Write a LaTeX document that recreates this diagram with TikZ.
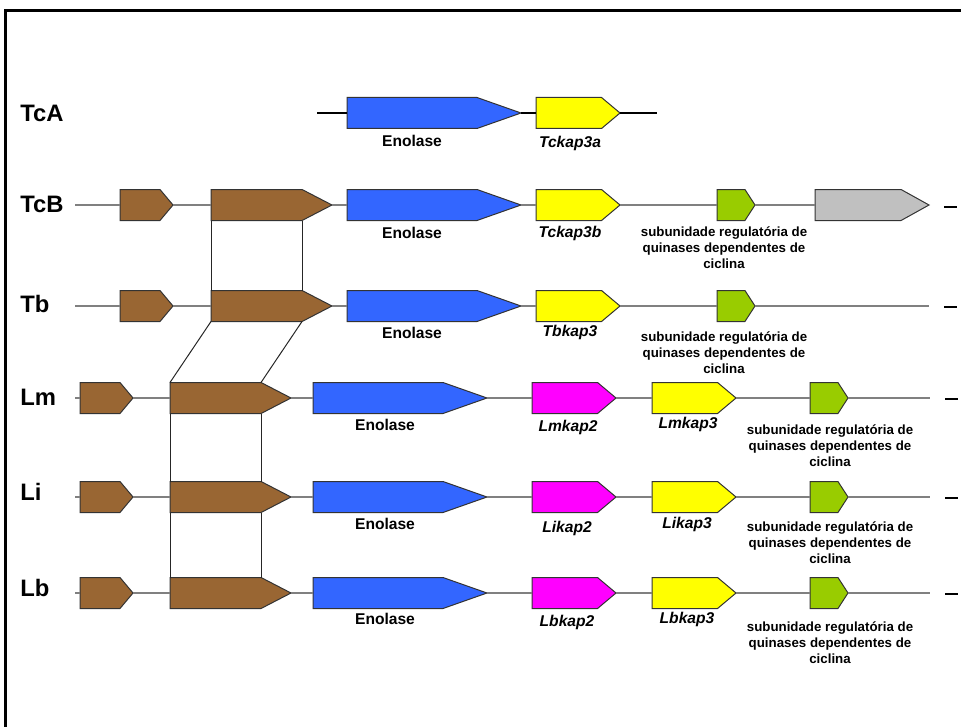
\documentclass[tikz,border=0pt]{standalone}
\usepackage{fontspec}
\setmainfont{Liberation Sans}
\usetikzlibrary{shapes.symbols,calc}

\definecolor{genebrown}{HTML}{996633}
\definecolor{geneblue}{HTML}{3366FF}
\definecolor{geneyellow}{HTML}{FFFF00}
\definecolor{genepink}{HTML}{FF00FF}
\definecolor{genegreen}{HTML}{99CC00}
\definecolor{genegray}{HTML}{C0C0C0}

\begin{document}
\begin{tikzpicture}[x=0.5pt,y=-0.5pt,
    gene/.style={signal, signal to=east, draw=black!80, line width=0.5pt,
      inner sep=0pt, outer sep=0pt, minimum height=15.5pt, anchor=west},
    smallgene/.style={gene, fill=genebrown, minimum width=26.5pt, signal pointer angle=100},
    biggene/.style={gene, fill=genebrown, minimum width=60.5pt, signal pointer angle=54.7},
    enogene/.style={gene, fill=geneblue, minimum width=87pt, signal pointer angle=38.8},
    kapgene/.style={gene, minimum width=42pt, signal pointer angle=80},
    cdkgene/.style={gene, fill=genegreen, minimum width=19pt, signal pointer angle=114},
    graygene/.style={gene, fill=genegray, minimum width=57pt, signal pointer angle=58},
    backbone/.style={draw=black!50, line width=0.6pt},
    homology/.style={draw=black!85, line width=0.5pt},
    endtick/.style={draw=black, line width=0.6pt},
    rowname/.style={font=\fontsize{11.9}{14}\selectfont\bfseries, anchor=west, inner sep=0pt},
    genelabel/.style={font=\fontsize{7.8}{9}\selectfont\bfseries, inner sep=0pt,
      text height=5.6pt, text depth=0pt},
    kaplabel/.style={genelabel, font=\fontsize{7.8}{9}\selectfont\bfseries\itshape},
    sublabel/.style={font=\fontsize{6.65}{8}\selectfont\bfseries, align=center,
      inner sep=0pt, anchor=north}]

    % Frame
    \useasboundingbox (0,0) rectangle (961,727);
    \draw[line width=1.5pt] (961,11) -- (5,11) -- (5,727);

    % Row names
    \node[rowname] (nTcA) at (20,113) {TcA};
    \node[rowname] (nTcB) at (20,204) {TcB};
    \node[rowname] (nTb) at (20,304) {Tb};
    \node[rowname] (nLm) at (20,397) {Lm};
    \node[rowname] (nLi) at (20,492) {Li};
    \node[rowname] (nLb) at (20,588) {Lb};

    % TcA
    \coordinate (sTcA) at (317,113);
    \coordinate (eTcA) at (657,113);
    \node[enogene] (enTcA) at (347,113) {};
    \node[kapgene, fill=geneyellow] (kTcA) at (536,113) {};
    \draw[black, line width=0.6pt] (sTcA) -- (enTcA) -- (kTcA) -- (eTcA);
    \node[genelabel] (tenTcA) at (412,141) {Enolase};
    \node[kaplabel] (tkTcA) at (570,142) {Tckap3a};

    % TcB
    \coordinate (sTcB) at (75,205);
    \node[smallgene] (smTcB) at (120,205) {};
    \node[biggene] (bgTcB) at (211,205) {};
    \node[enogene] (enTcB) at (347,205) {};
    \node[kapgene, fill=geneyellow] (kTcB) at (536,205) {};
    \node[cdkgene] (cdTcB) at (717,205) {};
    \node[graygene] (grTcB) at (815,205) {};
    \draw[backbone] (sTcB) -- (smTcB) -- (bgTcB) -- (enTcB) -- (kTcB) -- (cdTcB) -- (grTcB);
    \draw[endtick] (944,207) -- (957,207);
    \node[genelabel] (tenTcB) at (412,233) {Enolase};
    \node[kaplabel] (tkTcB) at (570,232) {Tckap3b};
    \node[sublabel] (tcdTcB) at (724,226) {subunidade regulatória de\\quinases dependentes de\\ciclina};

    % Tb
    \coordinate (sTb) at (75,306);
    \coordinate (eTb) at (929,306);
    \node[smallgene] (smTb) at (120,306) {};
    \node[biggene] (bgTb) at (211,306) {};
    \node[enogene] (enTb) at (347,306) {};
    \node[kapgene, fill=geneyellow] (kTb) at (536,306) {};
    \node[cdkgene] (cdTb) at (717,306) {};
    \draw[backbone] (sTb) -- (smTb) -- (bgTb) -- (enTb) -- (kTb) -- (cdTb) -- (eTb);
    \draw[endtick] (944,307) -- (957,307);
    \node[genelabel] (tenTb) at (412,333) {Enolase};
    \node[kaplabel] (tkTb) at (570,331) {Tbkap3};
    \node[sublabel] (tcdTb) at (724,331) {subunidade regulatória de\\quinases dependentes de\\ciclina};

    % Lm
    \coordinate (sLm) at (75,398);
    \coordinate (eLm) at (930,398);
    \node[smallgene] (smLm) at (80,398) {};
    \node[biggene] (bgLm) at (170,398) {};
    \node[enogene] (enLm) at (313,398) {};
    \node[kapgene, fill=genepink] (k2Lm) at (532,398) {};
    \node[kapgene, fill=geneyellow] (k3Lm) at (652,398) {};
    \node[cdkgene] (cdLm) at (810,398) {};
    \draw[backbone] (sLm) -- (smLm) -- (bgLm) -- (enLm) -- (k2Lm) -- (k3Lm) -- (cdLm) -- (eLm);
    \draw[endtick] (945,399) -- (958,399);
    \node[genelabel] (tenLm) at (385,425) {Enolase};
    \node[kaplabel] (tk2Lm) at (568,426) {Lmkap2};
    \node[kaplabel] (tk3Lm) at (688,423) {Lmkap3};
    \node[sublabel] (tcdLm) at (830,424) {subunidade regulatória de\\quinases dependentes de\\ciclina};

    % Li
    \coordinate (sLi) at (75,497);
    \coordinate (eLi) at (930,497);
    \node[smallgene] (smLi) at (80,497) {};
    \node[biggene] (bgLi) at (170,497) {};
    \node[enogene] (enLi) at (313,497) {};
    \node[kapgene, fill=genepink] (k2Li) at (532,497) {};
    \node[kapgene, fill=geneyellow] (k3Li) at (652,497) {};
    \node[cdkgene] (cdLi) at (810,497) {};
    \draw[backbone] (sLi) -- (smLi) -- (bgLi) -- (enLi) -- (k2Li) -- (k3Li) -- (cdLi) -- (eLi);
    \draw[endtick] (945,498) -- (958,498);
    \node[genelabel] (tenLi) at (385,524) {Enolase};
    \node[kaplabel] (tk2Li) at (567,527) {Likap2};
    \node[kaplabel] (tk3Li) at (687,523) {Likap3};
    \node[sublabel] (tcdLi) at (830,521) {subunidade regulatória de\\quinases dependentes de\\ciclina};

    % Lb
    \coordinate (sLb) at (75,593);
    \coordinate (eLb) at (930,593);
    \node[smallgene] (smLb) at (80,593) {};
    \node[biggene] (bgLb) at (170,593) {};
    \node[enogene] (enLb) at (313,593) {};
    \node[kapgene, fill=genepink] (k2Lb) at (532,593) {};
    \node[kapgene, fill=geneyellow] (k3Lb) at (652,593) {};
    \node[cdkgene] (cdLb) at (810,593) {};
    \draw[backbone] (sLb) -- (smLb) -- (bgLb) -- (enLb) -- (k2Lb) -- (k3Lb) -- (cdLb) -- (eLb);
    \draw[endtick] (945,594) -- (958,594);
    \node[genelabel] (tenLb) at (385,619) {Enolase};
    \node[kaplabel] (tk2Lb) at (567,621) {Lbkap2};
    \node[kaplabel] (tk3Lb) at (687,618) {Lbkap3};
    \node[sublabel] (tcdLb) at (830,621) {subunidade regulatória de\\quinases dependentes de\\ciclina};

    % Homology lines between the big brown genes
    \draw[homology] (bgTcB.south west) -- (bgTb.north west);
    \draw[homology] ($(bgTcB.south west)+(91,0)$) -- ($(bgTb.north west)+(91,0)$);
    \draw[homology] (bgTb.south west) -- (bgLm.north west);
    \draw[homology] ($(bgTb.south west)+(91,0)$) -- ($(bgLm.north west)+(91,0)$);
    \draw[homology] (bgLm.south west) -- (bgLi.north west);
    \draw[homology] ($(bgLm.south west)+(91,0)$) -- ($(bgLi.north west)+(91,0)$);
    \draw[homology] (bgLi.south west) -- (bgLb.north west);
    \draw[homology] ($(bgLi.south west)+(91,0)$) -- ($(bgLb.north west)+(91,0)$);

\end{tikzpicture}
\end{document}
